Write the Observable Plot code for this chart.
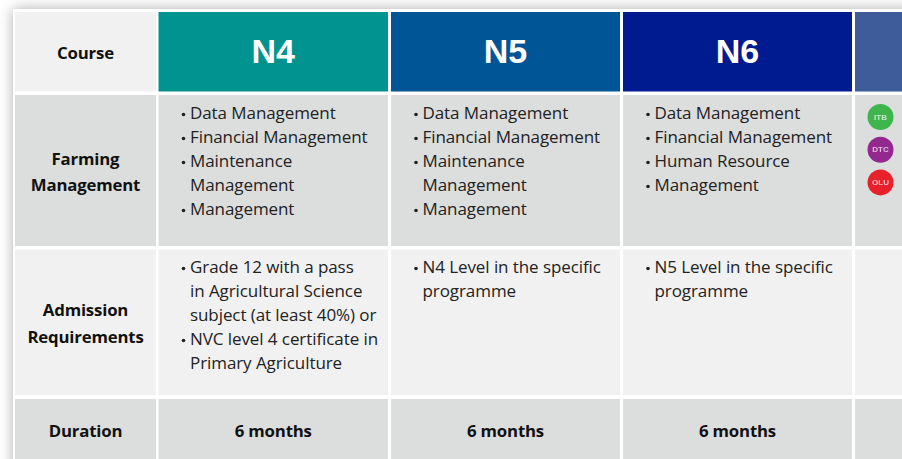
<!DOCTYPE html>
<html>
<head>
<meta charset="utf-8">
<script src="https://cdn.jsdelivr.net/npm/d3@7"></script>
<script src="https://cdn.jsdelivr.net/npm/@observablehq/plot@0.6"></script>
<style>
html,body{margin:0;padding:0;background:#fff;overflow:hidden}
svg{display:block;background:#fff}
.panel{filter:drop-shadow(0 0 7px rgba(0,0,0,.32))}
.body-text{letter-spacing:-0.08px}
.bold-text{letter-spacing:-0.18px}
.badge-dot{filter:blur(0.6px)}
.badge-text{filter:blur(0.4px)}
</style>
</head>
<body>
<div id="chart"></div>
<script>
// ---- content ----
const courses = ["N4", "N5", "N6"];
const rowLabels = {
  course: ["Course"],
  farming: ["Farming", "Management"],
  admission: ["Admission", "Requirements"],
  duration: ["Duration"]
};
const farmingN4 = [["Data Management"], ["Financial Management"], ["Maintenance", "Management"], ["Management"]];
const farmingN5 = [["Data Management"], ["Financial Management"], ["Maintenance", "Management"], ["Management"]];
const farmingN6 = [["Data Management"], ["Financial Management"], ["Human Resource"], ["Management"]];
const admissionN4 = [["Grade 12 with a pass", "in Agricultural Science", "subject (at least 40%) or"], ["NVC level 4 certificate in", "Primary Agriculture"]];
const admissionN5 = [["N4 Level in the specific", "programme"]];
const admissionN6 = [["N5 Level in the specific", "programme"]];
const durations = ["6 months", "6 months", "6 months"];
const badges = ["ITB", "DTC", "OLU"];
const badgeColors = ["#3fb54e", "#93298f", "#e8202a"];

// ---- table layout (pixel-domain scales) ----
const colEdges = [[15, 156], [158.5, 388], [391, 620], [623, 852], [855, 902]];
const rowEdges = [[12, 91.5], [95, 246], [249.5, 395], [399, 459]];
const headFills = ["#f1f1f1", "#009390", "#005596", "#001b8f", "#3f5c9a"];
const bodyFills = ["#dcdddd", "#f1f1f1", "#dcdddd"];
const textInset = 31, bulletInset = 24.5;
const lineStep = 24, labelStep = 26.5;
const firstLine = {farming: 113, admission: 267};
const labelX = 85;
const bodyFont = "'Open Sans', sans-serif";

const cells = [];
colEdges.forEach(([x1, x2], c) => {
  cells.push({x1, x2, y1: rowEdges[0][0], y2: rowEdges[0][1], fill: headFills[c]});
  bodyFills.forEach((fill, r) => cells.push({x1, x2, y1: rowEdges[r + 1][0], y2: rowEdges[r + 1][1], fill}));
});

const lines = [], bullets = [];
function addColumn(items, c, y0) {
  let y = y0;
  for (const item of items) {
    bullets.push({x: colEdges[c][0] + bulletInset, y: y + 1});
    for (const text of item) { lines.push({x: colEdges[c][0] + textInset, y, text}); y += lineStep; }
  }
}
[farmingN4, farmingN5, farmingN6].forEach((it, i) => addColumn(it, i + 1, firstLine.farming));
[admissionN4, admissionN5, admissionN6].forEach((it, i) => addColumn(it, i + 1, firstLine.admission));

const colCenter = c => (colEdges[c][0] + colEdges[c][1]) / 2;
const labels = [];
const labelY = {course: 53, farming: 159, admission: 310.5, duration: 431};
for (const k of Object.keys(rowLabels)) rowLabels[k].forEach((text, i) => labels.push({x: labelX, y: labelY[k] + i * labelStep, text}));
const heads = courses.map((text, i) => ({x: colCenter(i + 1) - 0.5, y: 52, text}));
const durs = durations.map((text, i) => ({x: colCenter(i + 1) - 0.5, y: 431, text}));
const badgeData = badges.map((text, i) => ({x: 880, y: 116.5 + i * 32.7, text, fill: badgeColors[i]}));

const plot = Plot.plot({
  width: 902, height: 459,
  margin: 0,
  x: {type: "linear", domain: [0, 902], range: [0, 902], axis: null},
  y: {type: "linear", domain: [0, 459], range: [0, 459], axis: null},
  marks: [
    Plot.rect([{x1: 13, x2: 960, y1: 9, y2: 520}], {x1: "x1", x2: "x2", y1: "y1", y2: "y2", fill: "#fff", className: "panel"}),
    Plot.rect(cells, {x1: "x1", x2: "x2", y1: "y1", y2: "y2", fill: "fill"}),
    Plot.text(heads, {x: "x", y: "y", text: "text", fill: "#fff", fontSize: 34, fontWeight: 700, fontFamily: "'Liberation Sans', Arial, sans-serif"}),
    Plot.text(labels, {x: "x", y: "y", text: "text", fill: "#111", fontSize: 16.8, fontWeight: 700, fontFamily: bodyFont, className: "bold-text"}),
    Plot.text(durs, {x: "x", y: "y", text: "text", fill: "#111", fontSize: 16.8, fontWeight: 700, fontFamily: bodyFont, className: "bold-text"}),
    Plot.text(lines, {x: "x", y: "y", text: "text", textAnchor: "start", fill: "#222", fontSize: 17, fontFamily: bodyFont, className: "body-text"}),
    Plot.dot(bullets, {x: "x", y: "y", r: 1.8, fill: "#222"}),
    Plot.dot(badgeData, {x: "x", y: "y", r: 13, fill: "fill", className: "badge-dot"}),
    Plot.text(badgeData, {x: "x", y: "y", text: "text", fill: "#fff", fillOpacity: 0.7, fontSize: 8, fontWeight: 700, fontFamily: "'Liberation Sans', sans-serif", className: "badge-text"})
  ]
});
document.getElementById("chart").append(plot);
</script>
</body>
</html>
